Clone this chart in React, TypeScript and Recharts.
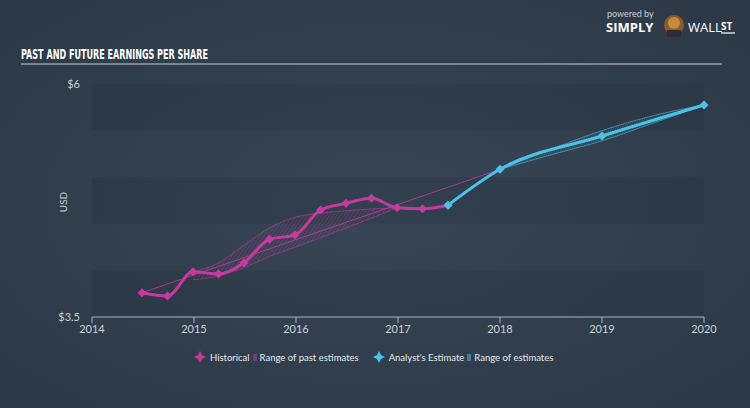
import { Area, ComposedChart, Line, ReferenceArea, XAxis, YAxis } from "recharts";

// historical EPS, quarterly
const histX = [2014.49, 2014.74, 2014.99, 2015.24, 2015.49, 2015.74, 2015.99, 2016.24, 2016.49, 2016.74, 2016.99, 2017.24, 2017.49];
const histEps = [3.76, 3.725, 3.986, 3.961, 4.083, 4.334, 4.38, 4.648, 4.72, 4.774, 4.673, 4.662, 4.7];

// analyst estimates
const estX = [2017.49, 2018, 2019, 2020];
const estEps = [4.7, 5.085, 5.442, 5.775];

// range of past estimates
const pastX = [2014.99, 2015.24, 2015.49, 2015.74, 2015.99, 2016.24, 2016.49, 2016.74, 2016.99];
const pastLow = [3.9, 3.94, 4.03, 4.15, 4.25, 4.35, 4.455, 4.56, 4.673];
const pastHigh = [3.98, 4.08, 4.27, 4.455, 4.57, 4.615, 4.64, 4.66, 4.673];

// old estimate trajectory
const oldX = [2014.49, 2018];
const oldEps = [3.76, 5.085];

// range of estimates
const rangeX = [2018, 2018.5, 2019, 2019.5, 2020];
const rangeLow = [5.085, 5.24, 5.39, 5.58, 5.775];
const rangeHigh = [5.085, 5.3, 5.5, 5.66, 5.775];

const yearTicks = [2014, 2015, 2016, 2017, 2018, 2019, 2020];
const usdTicks = [3.5, 6];
const bands = [[3.5, 4], [4.5, 5], [5.5, 6]];

const PINK = "#c63aa0";
const BLUE = "#4bc3e8";

const histData = histX.map((x, i) => ({ x, eps: histEps[i] }));
const estData = estX.map((x, i) => ({ x, eps: estEps[i] }));
const pastData = pastX.map((x, i) => ({ x, range: [pastLow[i], pastHigh[i]] }));
const oldData = oldX.map((x, i) => ({ x, eps: oldEps[i] }));
const rangeData = rangeX.map((x, i) => ({ x, range: [rangeLow[i], rangeHigh[i]] }));

const diamond = (color: string, r: number) => (props: any) => {
  const { cx, cy, index } = props;
  if (cx == null || cy == null) return <g key={index} />;
  return (
    <polygon
      key={index}
      points={`${cx},${cy - r} ${cx + r},${cy} ${cx},${cy + r} ${cx - r},${cy}`}
      fill={color}
    />
  );
};

function LegendMark({ color }: { color: string }) {
  return (
    <svg width="12" height="12" style={{ marginRight: 4 }}>
      <polygon points="6,0 8,4 12,6 8,8 6,12 4,8 0,6 4,4" fill={color} />
    </svg>
  );
}

export default function App() {
  return (
    <div
      style={{
        position: "relative",
        width: 750,
        height: 408,
        background: "radial-gradient(ellipse at 50% 50%, #384656 0%, #2c3845 100%)",
        fontFamily: "Lato, sans-serif",
        overflow: "hidden",
      }}
    >
      <style>{`body{margin:0}`}</style>
      <ComposedChart width={750} height={408} margin={{ top: 84, right: 46, bottom: 61, left: 52 }}>
        <defs>
          <pattern id="hatchPink" patternUnits="userSpaceOnUse" width="3" height="3" patternTransform="rotate(35)">
            <line x1="0" y1="0" x2="0" y2="3" stroke={PINK} strokeWidth="0.8" strokeOpacity="0.7" />
          </pattern>
          <pattern id="hatchBlue" patternUnits="userSpaceOnUse" width="2" height="2" patternTransform="rotate(20)">
            <line x1="0" y1="0" x2="0" y2="2" stroke={BLUE} strokeWidth="0.6" strokeOpacity="0.7" />
          </pattern>
        </defs>
        {bands.map(([a, b]) => (
          <ReferenceArea key={a} y1={a} y2={b} x1={2014} x2={2020} fill="#1e2833" fillOpacity={0.18} stroke="none" />
        ))}
        <XAxis
          dataKey="x"
          type="number"
          domain={[2014, 2020]}
          ticks={yearTicks}
          allowDuplicatedCategory={false}
          stroke="#a9b5c1"
          tickSize={6}
          tick={{ fill: "#c9d1d9", fontSize: 11 }}
        />
        <YAxis
          type="number"
          domain={[3.5, 6]}
          ticks={usdTicks}
          width={40}
          axisLine={false}
          tickLine={false}
          tickSize={0}
          tickMargin={12}
          tickFormatter={(v: number) => `$${v}`}
          tick={{ fill: "#c9d1d9", fontSize: 11 }}
        />
        <Area
          data={pastData}
          dataKey="range"
          type="monotone"
          stroke={PINK}
          strokeWidth={0.7}
          strokeOpacity={0.8}
          fill="url(#hatchPink)"
          fillOpacity={1}
          isAnimationActive={false}
        />
        <Line
          data={oldData}
          dataKey="eps"
          stroke={PINK}
          strokeWidth={1}
          strokeOpacity={0.8}
          dot={false}
          isAnimationActive={false}
        />
        <Area
          data={rangeData}
          dataKey="range"
          type="monotone"
          stroke={BLUE}
          strokeWidth={0.7}
          strokeOpacity={0.8}
          fill="url(#hatchBlue)"
          fillOpacity={1}
          isAnimationActive={false}
        />
        <Line
          data={histData}
          dataKey="eps"
          type="monotone"
          stroke={PINK}
          strokeWidth={3}
          dot={diamond(PINK, 4.5)}
          isAnimationActive={false}
        />
        <Line
          data={estData}
          dataKey="eps"
          type="monotone"
          stroke={BLUE}
          strokeWidth={3}
          dot={diamond(BLUE, 4.5)}
          isAnimationActive={false}
        />
      </ComposedChart>

      <svg width={750} height={408} style={{ position: "absolute", left: 0, top: 0, pointerEvents: "none" }}>
        <text
          x={21}
          y={59}
          fill="#ffffff"
          fontSize={14}
          fontWeight="bold"
          fontFamily="'DejaVu Sans Condensed', 'Liberation Sans Narrow', sans-serif"
          textLength={187}
          lengthAdjust="spacingAndGlyphs"
        >
          PAST AND FUTURE EARNINGS PER SHARE
        </text>
        <line x1={21} y1={64} x2={722} y2={64} stroke="#c3ccd5" strokeWidth={1} />
        <text
          x={67}
          y={202}
          fill="#c9d1d9"
          fontSize={10}
          fontFamily="Lato, sans-serif"
          textAnchor="middle"
          transform="rotate(-90 67 202)"
        >
          USD
        </text>
        {/* logo */}
        <text x={607} y={17} fill="#c9d1d9" fontSize={9} fontFamily="Lato, sans-serif">
          powered by
        </text>
        <text x={606} y={32} fill="#ffffff" fontSize={13} fontWeight="bold" fontFamily="'Open Sans', sans-serif">
          SIMPLY
        </text>
        <circle cx={674} cy={25} r={10} fill="#8b5a2b" />
        <circle cx={674} cy={23} r={6} fill="#c98a3d" />
        <rect x={667} y={30} width={14} height={7} fill="#2a2f36" />
        <text x={688} y={32} fill="#ffffff" fontSize={13} fontFamily="'Open Sans', sans-serif">
          WALL
        </text>
        <text x={721} y={30} fill="#ffffff" fontSize={10} fontWeight="bold" fontFamily="'Open Sans', sans-serif">
          ST
        </text>
        <line x1={721} y1={33} x2={735} y2={33} stroke="#ffffff" strokeWidth={1.2} />
      </svg>

      <div
        style={{
          position: "absolute",
          left: 194,
          top: 351,
          display: "flex",
          alignItems: "center",
          fontSize: 9.5,
          color: "#e3e8ec",
          whiteSpace: "nowrap",
        }}
      >
        <LegendMark color={PINK} />
        <span>Historical</span>
        <span style={{ display: "inline-block", width: 4, height: 7, background: PINK, opacity: 0.5, margin: "0 3px" }} />
        <span>Range of past estimates</span>
        <span style={{ width: 14 }} />
        <LegendMark color={BLUE} />
        <span>Analyst's Estimate</span>
        <span style={{ display: "inline-block", width: 4, height: 7, background: BLUE, opacity: 0.5, margin: "0 3px" }} />
        <span>Range of estimates</span>
      </div>
    </div>
  );
}
